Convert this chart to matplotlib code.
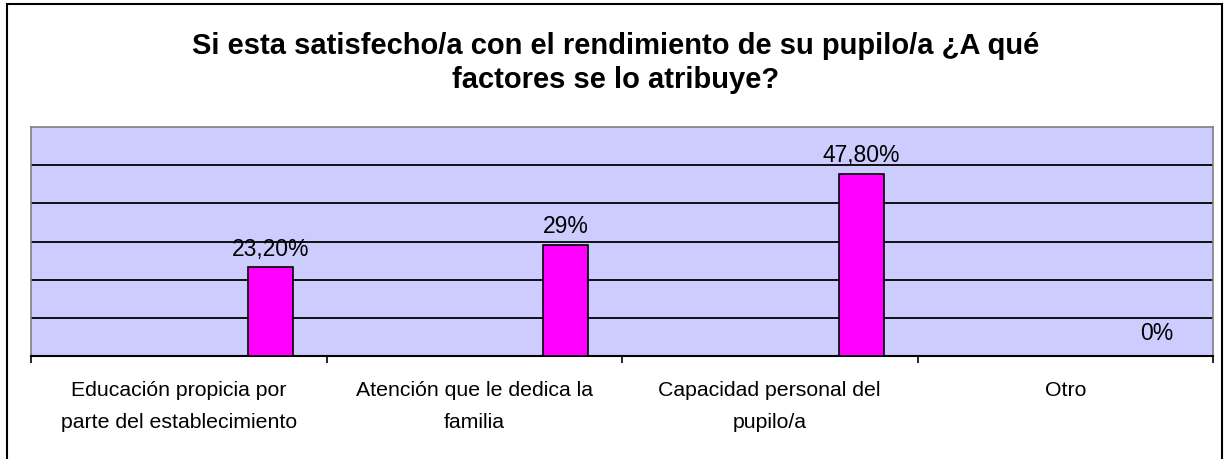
import numpy as np
import matplotlib.pyplot as plt
from matplotlib.patches import Rectangle

plt.rcParams['font.family'] = ['Liberation Sans', 'DejaVu Sans']

# Chart data
categories = ['Educación propicia por\nparte del establecimiento',
              'Atención que le dedica la\nfamilia',
              'Capacidad personal del\npupilo/a',
              'Otro']
values = [23.2, 29.0, 47.8, 0.0]
value_labels = ['23,20%', '29%', '47,80%', '0%']
title = 'Si esta satisfecho/a con el rendimiento de su pupilo/a ¿A qué\nfactores se lo atribuye?'

fig = plt.figure(figsize=(12.31, 4.6), dpi=100)

# outer frame of the chart (bottom edge runs off the image)
fig.patches.append(Rectangle((7 / 1231, -0.05), 1215 / 1231, 1.05 - 5 / 460,
                             transform=fig.transFigure, fill=False,
                             edgecolor='black', linewidth=1.5))

ax = fig.add_axes([31 / 1231, 1 - 357 / 460, 1182 / 1231, 229 / 460])
ax.set_facecolor('#ccccff')

# the series sits right of the category centre (empty slots of a clustered chart)
x = np.arange(len(categories))
bar_x = x + 0.31
ax.bar(bar_x, values, width=0.152, color='#ff00ff', edgecolor='black', linewidth=1.2, zorder=3)

ax.set_xlim(-0.5, len(categories) - 0.5)
ax.set_ylim(0, 60)
ax.set_yticks(np.arange(10, 60, 10))
ax.yaxis.grid(True, color='black', linewidth=1.3)
ax.tick_params(axis='y', length=0, labelleft=False)

ax.set_xticks(x)
ax.set_xticklabels(categories, fontsize=15.3, linespacing=1.9)
ax.tick_params(axis='x', which='major', length=0, pad=17)
ax.set_xticks(np.arange(-0.5, len(categories), 1), minor=True)
ax.tick_params(axis='x', which='minor', length=5, width=1.2, direction='out')

for side in ['top', 'left', 'right']:
    ax.spines[side].set_color('#808080')
    ax.spines[side].set_linewidth(1.2)
ax.spines['bottom'].set_color('black')
ax.spines['bottom'].set_linewidth(1.5)

# value labels
for bx, v, lab in zip(bar_x, values, value_labels):
    ax.annotate(lab, (bx, v), xytext=(0, 14 if v > 0 else 17),
                textcoords='offset points', ha='center', va='center', fontsize=16.5)

fig.text(616 / 1231, 1 - 63 / 460, title, ha='center', va='center',
         fontsize=21, fontweight='bold', linespacing=1.3)

fig.savefig('out.png', dpi=100)
